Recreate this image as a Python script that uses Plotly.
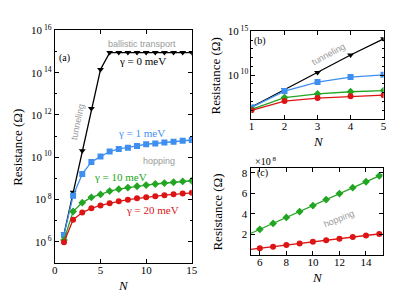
import numpy as np
import plotly.graph_objects as go

# ---------------- data ----------------
N = list(range(1, 16))
r_g0 = [2.3e6, 2.2e8, 2.0e10, 2.0e12, 1.4e14] + [8.9e14] * 10
r_g1 = [2.1e6, 1.5e8, 1.6e9, 6.0e9, 1.07e10, 1.86e10, 2.45e10, 2.8e10, 3.4e10,
        4.1e10, 4.5e10, 5.0e10, 5.4e10, 6.0e10, 6.5e10]
r_g10 = [1.2e6, 2.7e7, 7.1e7, 1.26e8, 1.74e8, 2.5e8, 3.08e8, 3.66e8, 4.23e8,
         4.81e8, 5.39e8, 5.97e8, 6.55e8, 7.12e8, 7.7e8]
r_g20 = [9.5e5, 1.1e7, 2.4e7, 3.8e7, 5.2e7, 6.7e7, 8.2e7, 9.8e7, 1.13e8,
         1.29e8, 1.44e8, 1.6e8, 1.75e8, 1.9e8, 2.06e8]

labels = ["γ = 0 meV", "γ = 1 meV", "γ = 10 meV", "γ = 20 meV"]
series = [r_g0, r_g1, r_g10, r_g20]
colors = ["#000000", "#3f8ff0", "#22a522", "#dc1414"]
symbols = ["triangle-down", "square", "diamond", "circle"]

W, H = 415, 295
SERIF = "Liberation Serif"
SANS = "Liberation Sans"

def px(x):
    return x / W

def py(y):
    return 1 - y / H

fig = go.Figure()

# panel (a)
for s, c, m, lab in zip(series, colors, symbols, labels):
    fig.add_trace(go.Scatter(x=N, y=s, mode="lines+markers", name=lab,
                             line=dict(color=c, width=1.3),
                             marker=dict(symbol=m, size=6, color=c),
                             xaxis="x", yaxis="y", showlegend=False))
# panel (b)
for s, c, m, lab in zip(series, colors, symbols, labels):
    fig.add_trace(go.Scatter(x=N[:5], y=s[:5], mode="lines+markers", name=lab,
                             line=dict(color=c, width=1.3),
                             marker=dict(symbol=m, size=6, color=c),
                             xaxis="x2", yaxis="y2", showlegend=False))
# panel (c)
xc_range = [5.3, 15.25]
for s, c, m, lab in zip(series[2:], colors[2:], symbols[2:], labels[2:]):
    xs = np.array(N[5:], dtype=float)
    ys = np.array(s[5:]) / 1e8
    k, b = np.polyfit(xs, ys, 1)
    xl = np.array(xc_range)
    fig.add_trace(go.Scatter(x=xl, y=k * xl + b, mode="lines",
                             line=dict(color=c, width=1.3),
                             xaxis="x3", yaxis="y3", showlegend=False))
    fig.add_trace(go.Scatter(x=xs, y=ys, mode="markers", name=lab,
                             marker=dict(symbol=m, size=6, color=c),
                             xaxis="x3", yaxis="y3", showlegend=False))

axis_common = dict(showline=True, linecolor="black", linewidth=1, mirror="ticks",
                   ticks="inside", ticklen=4, tickcolor="black", showgrid=False,
                   zeroline=False, tickfont=dict(family=SERIF, size=11, color="black"))
xaxis_extra = dict(ticklabelstandoff=-3)

exps_a = [6, 8, 10, 12, 14, 16]
fig.update_layout(
    width=W, height=H, margin=dict(l=0, r=0, t=0, b=0),
    paper_bgcolor="white", plot_bgcolor="white",
    xaxis=dict(domain=[px(53), px(193)], anchor="y", range=[0, 15],
               tickvals=[0, 5, 10, 15], **axis_common, **xaxis_extra),
    yaxis=dict(domain=[py(262), py(23)], anchor="x", type="log", range=[5, 16],
               tickvals=[10 ** e for e in exps_a],
               ticktext=[f"10<sup> {e}</sup>" for e in exps_a],
               minor=dict(ticks="inside", ticklen=2, tickcolor="black",
                          tickvals=[10 ** e for e in range(5, 17)]),
               **axis_common),
    xaxis2=dict(domain=[px(254), px(389)], anchor="y2", range=[1, 5],
                tickvals=[1, 2, 3, 4, 5], **axis_common, **xaxis_extra),
    yaxis2=dict(domain=[py(114), py(24)], anchor="x2", type="log", range=[5, 15],
                tickvals=[1e10, 1e15],
                ticktext=["10<sup> 10</sup>", "10<sup> 15</sup>"],
                minor=dict(ticks="inside", ticklen=2, tickcolor="black",
                           tickvals=[10 ** e for e in range(5, 16)]),
                **axis_common),
    xaxis3=dict(domain=[px(253), px(388)], anchor="y3", range=xc_range,
                tickvals=[6, 8, 10, 12, 14], **axis_common, **xaxis_extra),
    yaxis3=dict(domain=[py(254), py(164)], anchor="x3", range=[0, 8.5],
                tickvals=[2, 4, 6, 8], **axis_common),
)

GRAY = "#9a9a9a"
ann = [
    # axis titles
    dict(x=px(14), y=py(143), text="Resistance (Ω)", textangle=-90, size=13, font=SERIF, color="black"),
    dict(x=px(217), y=py(70), text="Resistance (Ω)", textangle=-90, size=13, font=SERIF, color="black"),
    dict(x=px(219), y=py(210), text="Resistance (Ω)", textangle=-90, size=13, font=SERIF, color="black"),
    dict(x=px(123), y=py(285), text="<i>N</i>", size=13, font=SERIF, color="black"),
    dict(x=px(322), y=py(137), text="<i>N</i>", size=13, font=SERIF, color="black"),
    dict(x=px(321), y=py(277), text="<i>N</i>", size=13, font=SERIF, color="black"),
    # panel labels
    dict(x=px(63), y=py(51), text="(a)", size=10, font=SERIF, color="black"),
    dict(x=px(263), y=py(34), text="(b)", size=10, font=SERIF, color="black"),
    dict(x=px(265), y=py(170), text="(c)", size=10, font=SERIF, color="black"),
    # panel (a) texts
    dict(x=px(142), y=py(37), text="ballistic transport", size=9, font=SANS, color=GRAY),
    dict(x=px(143), y=py(54), text="γ = 0 meV", size=11, font=SERIF, color=colors[0]),
    dict(x=px(76), y=py(117), text="tunneling", textangle=-78, size=9, font=SANS, color=GRAY),
    dict(x=px(142), y=py(128), text="γ = 1 meV", size=11, font=SERIF, color=colors[1]),
    dict(x=px(159), y=py(157), text="hopping", size=9, font=SANS, color=GRAY),
    dict(x=px(120), y=py(174), text="γ = 10 meV", size=11, font=SERIF, color=colors[2]),
    dict(x=px(153), y=py(208), text="γ = 20 meV", size=11, font=SERIF, color=colors[3]),
    # panel (b)
    dict(x=px(333), y=py(47), text="tunneling", textangle=-28, size=9, font=SANS, color=GRAY),
    # panel (c)
    dict(x=px(343), y=py(217), text="hopping", textangle=-22, size=9, font=SANS, color=GRAY),
    dict(x=px(268), y=py(157), text="×10<sup> 8</sup>", size=10, font=SERIF, color="black"),
]
fig.update_layout(annotations=[
    dict(x=a["x"], y=a["y"], xref="paper", yref="paper", text=a["text"],
         showarrow=False, textangle=a.get("textangle", 0),
         font=dict(family=a["font"], size=a["size"], color=a["color"]),
         xanchor="center", yanchor="middle")
    for a in ann
])

fig.write_html("out.html", config={"displayModeBar": False},
               post_script="document.body.style.margin='0';document.body.style.overflow='hidden';")
